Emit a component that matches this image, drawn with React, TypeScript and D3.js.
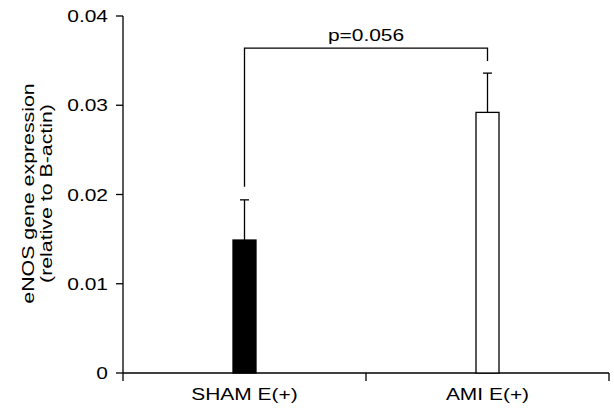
import React from 'react'
import * as d3 from 'd3'

const categories = ['SHAM E(+)', 'AMI E(+)']
const means = [0.0149, 0.0292]
const errors = [0.0045, 0.0044]
const barFills = ['#000000', '#ffffff']
const yTicks = [0, 0.01, 0.02, 0.03, 0.04]
const yTickLabels = ['0', '0.01', '0.02', '0.03', '0.04']
const pLabel = 'p=0.056'
const yLabelLines = ['eNOS gene expression', '(relative to B-actin)']

const W = 614
const H = 409
const margin = { top: 16, right: 5, bottom: 36, left: 123 }

// the original's lettering is stretched wider than a normal Arial
const SX = 1.27

function Txt({ x, y, anchor, size, children }: { x: number, y: number, anchor: string, size: number, children: React.ReactNode }) {
	return (
		<g transform={`translate(${x},${y}) scale(${SX},1)`}>
			<text textAnchor={anchor} fontSize={size}>{children}</text>
		</g>
	)
}

export default function App() {
	const innerW = W - margin.left - margin.right
	const innerH = H - margin.top - margin.bottom

	const x = d3.scaleBand().domain(categories).range([0, innerW])
	const y = d3.scaleLinear().domain([0, 0.04]).range([innerH, 0])

	const barW = 23
	const capW = 9
	const cx = (c: string) => (x(c) as number) + x.bandwidth() / 2

	const bracketY = y(0.0364)
	const leftLeg = y(means[0] + errors[0]) - 13
	const rightLeg = y(means[1] + errors[1]) - 12

	const font = '"Liberation Sans", Arial, sans-serif'

	return (
		<svg width={W} height={H} style={{ position: 'absolute', left: 0, top: 0 }} fontFamily={font}>
			<rect width={W} height={H} fill="#fff" />
			<g transform={`translate(${margin.left},${margin.top})`}>
				{/* y axis */}
				<line x1={0} x2={0} y1={0} y2={innerH + 8} stroke="#000" strokeWidth={1.3} />
				{yTicks.map((t, i) => (
					<g key={t}>
						<line x1={-7} x2={0} y1={y(t)} y2={y(t)} stroke="#000" strokeWidth={1.3} />
						<Txt x={-15} y={y(t) + 6} anchor="end" size={16.5}>{yTickLabels[i]}</Txt>
					</g>
				))}
				{/* x axis */}
				<line x1={0} x2={innerW} y1={innerH} y2={innerH} stroke="#000" strokeWidth={1.3} />
				{categories.map((c) => (
					<line key={c} x1={(x(c) as number) + x.bandwidth()} x2={(x(c) as number) + x.bandwidth()} y1={innerH} y2={innerH + 8} stroke="#000" strokeWidth={1.3} />
				))}
				{categories.map((c) => (
					<Txt key={c} x={cx(c)} y={innerH + 27} anchor="middle" size={16.5}>{c}</Txt>
				))}
				{/* bars + error bars */}
				{categories.map((c, i) => (
					<g key={c}>
						<line x1={cx(c)} x2={cx(c)} y1={y(means[i])} y2={y(means[i] + errors[i])} stroke="#000" strokeWidth={1.3} />
						<line x1={cx(c) - capW / 2} x2={cx(c) + capW / 2} y1={y(means[i] + errors[i])} y2={y(means[i] + errors[i])} stroke="#000" strokeWidth={1.3} />
						<rect x={cx(c) - barW / 2} y={y(means[i])} width={barW} height={innerH - y(means[i])} fill={barFills[i]} stroke="#000" strokeWidth={1.3} />
					</g>
				))}
				{/* significance bracket */}
				<path
					d={`M${cx(categories[0])},${leftLeg}V${bracketY}H${cx(categories[1])}V${rightLeg}`}
					fill="none" stroke="#000" strokeWidth={1.3}
				/>
				<Txt x={(cx(categories[0]) + cx(categories[1])) / 2} y={bracketY - 7} anchor="middle" size={16.5}>{pLabel}</Txt>
			</g>
			<g transform={`translate(40,${margin.top + innerH / 2 - 1}) rotate(-90)`}>
				<Txt x={0} y={-6} anchor="middle" size={16.8}>{yLabelLines[0]}</Txt>
				<Txt x={0} y={12} anchor="middle" size={16.8}>{yLabelLines[1]}</Txt>
			</g>
		</svg>
	)
}
